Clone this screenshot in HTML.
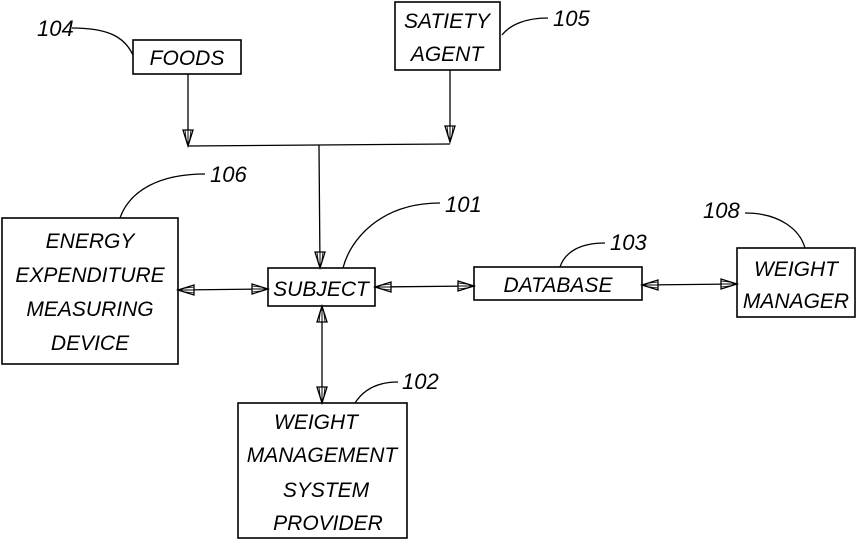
<!DOCTYPE html>
<html><head><style>
body{margin:0;background:#fff}
svg text{font-family:"Liberation Sans",sans-serif;font-style:italic;font-size:21px;fill:#000}
.n{font-size:22px}
</style></head><body>
<svg width="858" height="540" viewBox="0 0 858 540" xmlns="http://www.w3.org/2000/svg">
<defs>
<g id="ah"><polygon points="0,0 -16,-5 -16,5" fill="#fff" stroke="#000" stroke-width="1.3"/><line x1="0" y1="0" x2="-16" y2="0" stroke="#000" stroke-width="1"/><line x1="-4" y1="-1.5" x2="-16" y2="-3" stroke="#000" stroke-width=".8"/><line x1="-4" y1="1.5" x2="-16" y2="3" stroke="#000" stroke-width=".8"/></g>
</defs>
<g fill="none" stroke="#000" stroke-width="1.6">
<rect x="133" y="40" width="108" height="34"/>
<rect x="395" y="2" width="105" height="68"/>
<rect x="2" y="218" width="176" height="146"/>
<rect x="268" y="268" width="107" height="38"/>
<rect x="474" y="267" width="168" height="33"/>
<rect x="737" y="248" width="118" height="69"/>
<rect x="238" y="403" width="169" height="135"/>
</g>
<g fill="none" stroke="#000" stroke-width="1.3">
<line x1="188" y1="74" x2="188" y2="146"/>
<line x1="450" y1="70" x2="450" y2="142"/>
<line x1="188" y1="146" x2="450" y2="144"/>
<line x1="319" y1="145" x2="320" y2="268"/>
<line x1="178" y1="290" x2="268" y2="289"/>
<line x1="375" y1="287" x2="474" y2="286"/>
<line x1="642" y1="285" x2="737" y2="284"/>
<line x1="322" y1="306" x2="322" y2="403"/>
<path d="M72,28 C110,28 125,38 133,55"/>
<path d="M548,18 C525,18 510,25 502,35"/>
<path d="M205,174 C160,174 130,190 120,218"/>
<path d="M440,203 C380,203 350,240 343,268"/>
<path d="M605,243 C580,243 565,252 560,267"/>
<path d="M745,213 C780,213 800,230 805,248"/>
<path d="M398,382 C375,382 362,392 355,403"/>
</g>
<use href="#ah" transform="translate(188,146) rotate(90)"/>
<use href="#ah" transform="translate(450,142) rotate(90)"/>
<use href="#ah" transform="translate(320,268) rotate(90)"/>
<use href="#ah" transform="translate(178,290) rotate(180)"/>
<use href="#ah" transform="translate(268,289)"/>
<use href="#ah" transform="translate(375,287) rotate(180)"/>
<use href="#ah" transform="translate(474,286)"/>
<use href="#ah" transform="translate(642,285) rotate(180)"/>
<use href="#ah" transform="translate(737,284)"/>
<use href="#ah" transform="translate(322,306) rotate(-90)"/>
<use href="#ah" transform="translate(322,403) rotate(90)"/>
<g text-anchor="middle">
<text x="187" y="65">FOODS</text>
<text x="447" y="28">SATIETY</text>
<text x="447" y="61">AGENT</text>
<text x="90" y="248">ENERGY</text>
<text x="90" y="282">EXPENDITURE</text>
<text x="90" y="316">MEASURING</text>
<text x="90" y="350">DEVICE</text>
<text x="321" y="296">SUBJECT</text>
<text x="558" y="292">DATABASE</text>
<text x="796" y="276">WEIGHT</text>
<text x="796" y="308">MANAGER</text>
<text x="316" y="429">WEIGHT</text>
<text x="322" y="462">MANAGEMENT</text>
<text x="326" y="497">SYSTEM</text>
<text x="328" y="530">PROVIDER</text>
</g>
<text class="n" x="37" y="36">104</text>
<text class="n" x="553" y="26">105</text>
<text class="n" x="210" y="182">106</text>
<text class="n" x="445" y="212">101</text>
<text class="n" x="610" y="250">103</text>
<text class="n" x="703" y="218">108</text>
<text class="n" x="402" y="389">102</text>
</svg>
</body></html>
